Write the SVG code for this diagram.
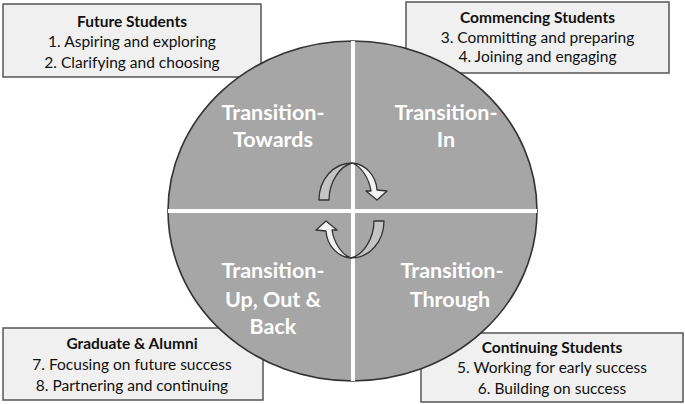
<svg xmlns="http://www.w3.org/2000/svg" width="685" height="404" viewBox="0 0 685 404">
<style>
.box{fill:#f0f0f0;stroke:#555;stroke-width:1.5}
.bt{font-family:Lato,"Liberation Sans",sans-serif;font-size:15.5px;fill:#111;text-anchor:middle}
.bt .h{font-weight:bold;font-size:15.5px}
.q{font-family:Lato,"Liberation Sans",sans-serif;font-size:21.5px;font-weight:bold;fill:#fff;text-anchor:middle}
.div{stroke:#fff;stroke-width:4}
.band1{fill:#c4c4c4;stroke:#333;stroke-width:1.3;stroke-linejoin:round}
.band2{fill:#f2f2f2;stroke:#333;stroke-width:1.3;stroke-linejoin:round}
</style>
<rect width="685" height="404" fill="#fff"/>
<g id="future-students">
<rect class="box" x="3" y="4" width="258" height="73"/>
<text class="bt"><tspan class="h" x="132" y="27">Future Students</tspan><tspan x="132" y="47">1. Aspiring and exploring</tspan><tspan x="132" y="68">2. Clarifying and choosing</tspan></text>
</g>
<g id="commencing-students">
<rect class="box" x="406" y="2" width="263" height="71"/>
<text class="bt"><tspan class="h" x="537.5" y="23">Commencing Students</tspan><tspan x="537.5" y="43">3. Committing and preparing</tspan><tspan x="537.5" y="62">4. Joining and engaging</tspan></text>
</g>
<g id="graduate-alumni">
<rect class="box" x="3" y="328" width="260" height="72"/>
<text class="bt"><tspan class="h" x="132" y="349">Graduate &amp; Alumni</tspan><tspan x="132" y="370">7. Focusing on future success</tspan><tspan x="132" y="391">8. Partnering and continuing</tspan></text>
</g>
<g id="continuing-students">
<rect class="box" x="421" y="333" width="262" height="69"/>
<text class="bt"><tspan class="h" x="552" y="353">Continuing Students</tspan><tspan x="552" y="373">5. Working for early success</tspan><tspan x="552" y="394">6. Building on success</tspan></text>
</g>
<g id="cycle">
<ellipse cx="352.5" cy="211" rx="184.5" ry="170" fill="#a6a6a6" stroke="#333" stroke-width="1.6"/>
<line class="div" x1="353" y1="41" x2="353" y2="381"/>
<line class="div" x1="168" y1="211" x2="537" y2="211"/>
</g>
<g id="transition-towards"><text class="q"><tspan x="273" y="120">Transition-</tspan><tspan x="273" y="147">Towards</tspan></text></g>
<g id="transition-in"><text class="q"><tspan x="446" y="120">Transition-</tspan><tspan x="446" y="147">In</tspan></text></g>
<g id="transition-up-out-back"><text class="q"><tspan x="273" y="278">Transition-</tspan><tspan x="273" y="307">Up, Out &amp;</tspan><tspan x="273" y="334">Back</tspan></text></g>
<g id="transition-through"><text class="q"><tspan x="452" y="278">Transition-</tspan><tspan x="450" y="307">Through</tspan></text></g>
<g id="connectors">
<g id="arrow-top">
<path class="band1" d="M319,200 C319,180 333,163 352,163 C340,166 329,182 329,200 Z"/>
<path class="band2" d="M352,163 C366,164 376,176 377,190 L387,191 L377,200 L366,191 L371,191 C369,178 361,166 352,163 Z"/>
</g>
<g id="arrow-bottom" transform="rotate(180 351.5 210.5)">
<path class="band1" d="M319,200 C319,180 333,163 352,163 C340,166 329,182 329,200 Z"/>
<path class="band2" d="M352,163 C366,164 376,176 377,190 L387,191 L377,200 L366,191 L371,191 C369,178 361,166 352,163 Z"/>
</g>
</g>
</svg>
